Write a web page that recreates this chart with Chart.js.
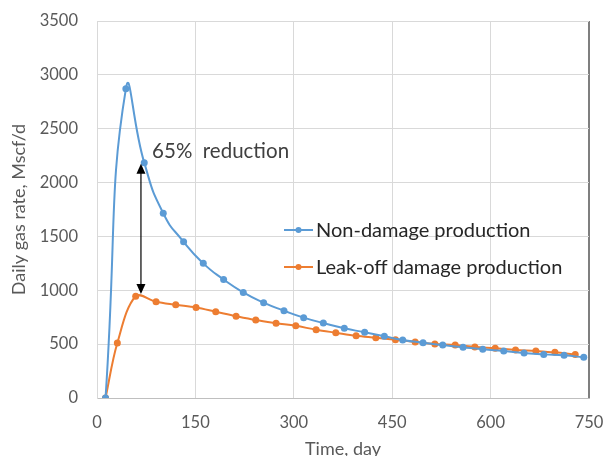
<!DOCTYPE html>
<html>
<head>
<meta charset="utf-8">
<script src="https://cdn.jsdelivr.net/npm/chart.js@4/dist/chart.umd.min.js"></script>
<style>
  html, body { margin: 0; padding: 0; background: #fff; }
  #wrap { width: 604px; height: 456px; }
</style>
</head>
<body>
<div id="wrap"><canvas id="myChart" width="604" height="456"></canvas></div>
<script>
// values
const blueDays = [13, 44, 72, 101, 132, 162, 193, 223, 254, 285, 315, 345, 377, 408, 438, 466, 497, 527, 558, 588, 620, 651, 681, 712, 742];
const blueRates = [0, 2870, 2185, 1715, 1450, 1250, 1100, 980, 885, 810, 746, 696, 647, 610, 573, 539, 513, 492, 471, 452, 436, 418, 405, 396, 378];
const orangeDays = [13, 31, 59, 90, 120, 151, 181, 212, 242, 273, 303, 334, 364, 395, 425, 455, 485, 515, 546, 576, 607, 638, 669, 698, 729];
const orangeRates = [0, 511, 945, 894, 866, 840, 801, 760, 724, 695, 670, 634, 606, 578, 560, 541, 520, 501, 492, 474, 461, 446, 436, 424, 405];
const seriesNames = ['Non-damage production', 'Leak-off damage production'];
const xTicks = [0, 150, 300, 450, 600, 750];
const yTicks = [0, 500, 1000, 1500, 2000, 2500, 3000, 3500];

// annotation: arrow between the two curves and its label
const arrowDay = 67, arrowFrom = 2175, arrowTo = 965;
const noteText = '65%  reduction', noteDay = 84, noteRate = 2290;

const FONT = 'Lato, "Open Sans", sans-serif';
const BLUE = '#5b9bd5', ORANGE = '#ed7d31';

function toPoints(xs, ys) {
  return xs.map((x, i) => ({ x: x, y: ys[i] }));
}

const extras = {
  id: 'extras',
  afterDatasetsDraw(chart) {
    const ctx = chart.ctx;
    const xs = chart.scales.x, ys = chart.scales.y;
    ctx.save();

    // double headed arrow
    const ax = xs.getPixelForValue(arrowDay);
    const y1 = ys.getPixelForValue(arrowFrom);
    const y2 = ys.getPixelForValue(arrowTo);
    ctx.strokeStyle = '#000';
    ctx.fillStyle = '#000';
    ctx.lineWidth = 1.2;
    ctx.beginPath();
    ctx.moveTo(ax, y1 + 8);
    ctx.lineTo(ax, y2 - 8);
    ctx.stroke();
    ctx.beginPath();
    ctx.moveTo(ax, y1);
    ctx.lineTo(ax - 4.5, y1 + 10);
    ctx.lineTo(ax + 4.5, y1 + 10);
    ctx.closePath();
    ctx.fill();
    ctx.beginPath();
    ctx.moveTo(ax, y2);
    ctx.lineTo(ax - 4.5, y2 - 10);
    ctx.lineTo(ax + 4.5, y2 - 10);
    ctx.closePath();
    ctx.fill();

    // label
    ctx.font = '20.5px ' + FONT;
    ctx.fillStyle = '#404040';
    ctx.textAlign = 'left';
    ctx.textBaseline = 'middle';
    ctx.fillText(noteText, xs.getPixelForValue(noteDay), ys.getPixelForValue(noteRate));

    // legend inside the plot
    const lx = 284, rows = [230, 267];
    chart.data.datasets.forEach((ds, i) => {
      const y = rows[i];
      ctx.strokeStyle = ds.borderColor;
      ctx.lineWidth = 2;
      ctx.beginPath();
      ctx.moveTo(lx, y);
      ctx.lineTo(lx + 29, y);
      ctx.stroke();
      ctx.fillStyle = ds.borderColor;
      ctx.beginPath();
      ctx.arc(lx + 14.5, y, 3, 0, Math.PI * 2);
      ctx.fill();
      ctx.fillStyle = '#262626';
      ctx.font = '20px ' + FONT;
      ctx.fillText(ds.label, lx + 32, y + 1);
    });
    ctx.restore();
  }
};

const ctx = document.getElementById('myChart').getContext('2d');
new Chart(ctx, {
  type: 'line',
  data: {
    datasets: [{
      label: seriesNames[0],
      data: toPoints(blueDays, blueRates),
      borderColor: BLUE,
      backgroundColor: BLUE,
      borderWidth: 2,
      pointRadius: 3.5,
      pointBorderWidth: 0,
      tension: 0.55
    }, {
      label: seriesNames[1],
      data: toPoints(orangeDays, orangeRates),
      borderColor: ORANGE,
      backgroundColor: ORANGE,
      borderWidth: 2,
      pointRadius: 3.5,
      pointBorderWidth: 0,
      tension: 0.35
    }]
  },
  options: {
    responsive: false,
    animation: false,
    layout: { padding: { top: 21, right: 15, left: 0, bottom: 0 } },
    plugins: {
      legend: { display: false },
      tooltip: { enabled: false }
    },
    scales: {
      x: {
        type: 'linear',
        min: 0,
        max: 750,
        afterBuildTicks: (s) => { s.ticks = xTicks.map(v => ({ value: v })); },
        afterFit: (s) => { s.height = 58; s.paddingLeft = 0; s.paddingRight = 0; },
        grid: {
          drawTicks: false,
          color: (c) => c.tick && c.tick.value === 750 ? '#7f7f7f' : '#d9d9d9',
          lineWidth: (c) => c.tick && c.tick.value === 750 ? 2 : 1
        },
        border: { color: '#bfbfbf' },
        ticks: {
          padding: 15, color: '#595959', font: { family: FONT, size: 16.5 },
          callback: (v) => String(v)
        },
        title: {
          display: true,
          text: 'Time, day',
          color: '#595959',
          font: { family: FONT, size: 18 },
          padding: { top: 0, bottom: -4 }
        }
      },
      y: {
        min: 0,
        max: 3500,
        afterBuildTicks: (s) => { s.ticks = yTicks.map(v => ({ value: v })); },
        afterFit: (s) => { s.width = 97; s.paddingTop = 0; s.paddingBottom = 0; },
        grid: { drawTicks: false, color: '#d9d9d9' },
        border: { color: '#d9d9d9' },
        ticks: {
          padding: 19, color: '#595959', font: { family: FONT, size: 16.5 },
          callback: (v) => String(v)
        },
        title: {
          display: true,
          text: 'Daily gas rate, Mscf/d',
          color: '#595959',
          font: { family: FONT, size: 18 },
          padding: { top: 8, bottom: 0 }
        }
      }
    }
  },
  plugins: [extras]
});
</script>
</body>
</html>
